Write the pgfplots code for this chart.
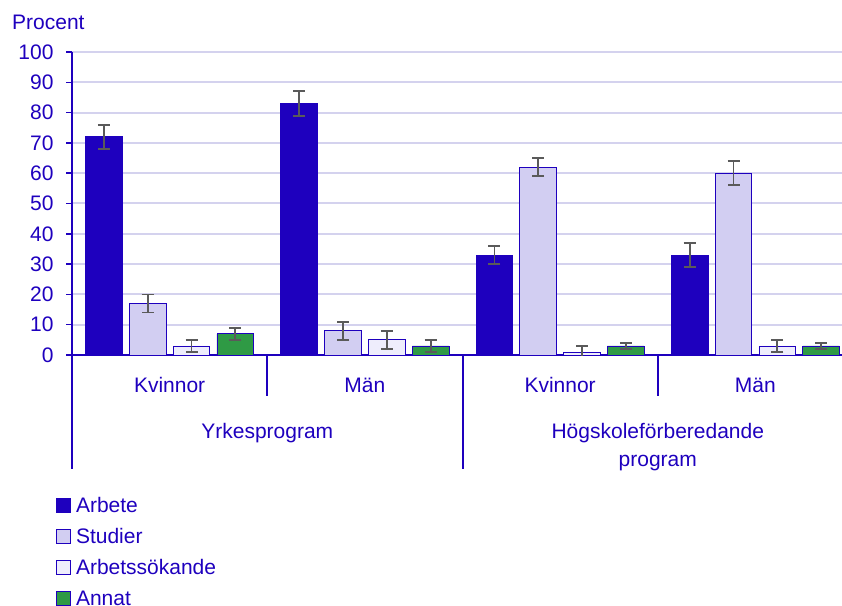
\documentclass[border=0pt]{standalone}
\usepackage{pgfplots}
\pgfplotsset{compat=1.18}
\usepackage{pgfplotstable}
\usepackage{fontspec}
\setmainfont{Liberation Sans}
\definecolor{scbblue}{RGB}{30,0,190}
\definecolor{studc}{RGB}{210,206,242}
\definecolor{sokc}{RGB}{238,237,252}
\definecolor{annatc}{RGB}{47,154,69}
\definecolor{gridc}{RGB}{212,210,238}
\definecolor{errc}{RGB}{90,90,90}

\pgfplotstableread{
x y e
31.9 72 4
227.2 83 4
422.4 33 3
617.7 33 4
}\tArbete
\pgfplotstableread{
x y e
75.7 17 3
271.0 8 3
466.2 62 3
661.5 60 4
}\tStudier
\pgfplotstableread{
x y e
119.5 3 2
314.8 5 3
510.0 1 2
705.3 3 2
}\tSok
\pgfplotstableread{
x y e
163.3 7 2
358.6 3 2
553.8 3 1
749.1 3 1
}\tAnnat

\pgfplotsset{
  errstyle/.style={
    error bars/.cd, y dir=both, y explicit,
    error bar style={draw=errc, line width=1.8pt},
    error mark options={draw=errc, line width=1.8pt, mark size=6pt, rotate=90}
  }
}

\begin{document}
\begin{tikzpicture}[font=\fontsize{21}{28}\selectfont]
\begin{axis}[
  at={(72pt,250pt)}, anchor=south west,
  scale only axis, width=770pt, height=303pt,
  xmin=0, xmax=770, ymin=0, ymax=100,
  axis x line*=bottom, axis y line*=left,
  axis line style={-, draw=scbblue, line width=1.8pt},
  xtick=\empty, ytick={0,10,...,100},
  tick align=outside, major tick length=6pt,
  ytick style={draw=scbblue, line width=1.5pt},
  yticklabel style={text=scbblue, font=\fontsize{21}{24}\selectfont, xshift=-9pt},
  /pgf/number format/assume math mode=true,
  ymajorgrids, major grid style={draw=gridc, line width=2pt},
  clip mode=individual,
  ybar, bar width=36.7,
  legend style={at={(axis cs:-16,-47.2)}, anchor=north west, draw=none, fill=none,
    inner sep=0pt, row sep=12.5pt, text=scbblue,
    nodes={inner sep=0pt, text height=14pt, text depth=4pt},
    /tikz/every odd column/.append style={column sep=5pt},
    font=\fontsize{21}{24}\selectfont},
  legend cell align=left,
  legend image code/.code={\draw[#1] (0pt,-5pt) rectangle (14pt,9pt);},
]
\addplot[fill=scbblue, draw=scbblue, line width=0.8pt, bar shift=0pt, errstyle] table[x=x, y=y, y error=e] {\tArbete};
\addlegendentry{Arbete}
\addplot[fill=studc, draw=scbblue, line width=0.8pt, bar shift=0pt, errstyle] table[x=x, y=y, y error=e] {\tStudier};
\addlegendentry{Studier}
\addplot[fill=sokc, draw=scbblue, line width=0.8pt, bar shift=0pt, errstyle] table[x=x, y=y, y error=e] {\tSok};
\addlegendentry{Arbetssökande}
\addplot[fill=annatc, draw=scbblue, line width=0.8pt, bar shift=0pt, errstyle] table[x=x, y=y, y error=e] {\tAnnat};
\addlegendentry{Annat}

\draw[scbblue, line width=2pt] (axis cs:0,0) -- ++(0,-117pt);
\draw[scbblue, line width=2pt] (axis cs:390.5,0) -- ++(0,-117pt);
\draw[scbblue, line width=2pt] (axis cs:195.3,0) -- ++(0,-44pt);
\draw[scbblue, line width=2pt] (axis cs:585.8,0) -- ++(0,-44pt);

\node[anchor=base, text=scbblue] at ([yshift=-37pt]axis cs:97.6,0) {Kvinnor};
\node[anchor=base, text=scbblue] at ([yshift=-37pt]axis cs:292.9,0) {Män};
\node[anchor=base, text=scbblue] at ([yshift=-37pt]axis cs:488.1,0) {Kvinnor};
\node[anchor=base, text=scbblue] at ([yshift=-37pt]axis cs:683.4,0) {Män};
\node[anchor=base, text=scbblue] at ([yshift=-83pt]axis cs:195.3,0) {Yrkesprogram};
\node[anchor=base, text=scbblue] at ([yshift=-83pt]axis cs:585.8,0) {Högskoleförberedande};
\node[anchor=base, text=scbblue] at ([yshift=-111pt]axis cs:585.8,0) {program};
\end{axis}
\node[anchor=base west, inner sep=0pt, text=scbblue] at (12pt,575.7pt) {Procent};
\pgfresetboundingbox
\path (0,0) rectangle (842pt,605pt);
\end{tikzpicture}
\end{document}
